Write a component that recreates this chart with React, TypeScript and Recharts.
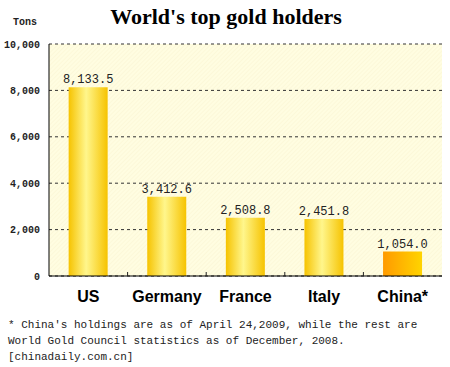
import {
  BarChart,
  Bar,
  XAxis,
  YAxis,
  CartesianGrid,
  Cell,
  LabelList,
} from 'recharts';

const countries = ['US', 'Germany', 'France', 'Italy', 'China*'];
const holdings = [8133.5, 3412.6, 2508.8, 2451.8, 1054.0];
const yTicks = [0, 2000, 4000, 6000, 8000, 10000];
const footnote = [
  "* China's holdings are as of April 24,2009, while the rest are",
  'World Gold Council statistics as of December, 2008.',
  '[chinadaily.com.cn]',
];

const data = countries.map((country, i) => ({ country, tons: holdings[i] }));

const mono = '"Liberation Mono", "DejaVu Sans Mono", monospace';

function CountryTick(props: any) {
  const { x, y, payload, index } = props;
  const half = payload?.offset ?? 39.3;
  return (
    <g>
      {index > 0 && (
        <line x1={x - half} x2={x - half} y1={y - 4} y2={y} stroke='#222' />
      )}
      <text
        x={x}
        y={y + 20}
        textAnchor='middle'
        dominantBaseline='central'
        fontFamily='"Liberation Sans", Arial, sans-serif'
        fontWeight='bold'
        fontSize={16}
        fill='#000'
      >
        {payload.value}
      </text>
    </g>
  );
}

export default function App() {
  return (
    <div
      style={{
        position: 'absolute',
        left: 0,
        top: 0,
        width: 450,
        height: 367,
        background: '#fff',
      }}
    >
      <div
        style={{
          position: 'absolute',
          left: 0,
          width: 452,
          top: 3,
          textAlign: 'center',
          fontFamily: '"Liberation Serif", serif',
          fontWeight: 'bold',
          fontSize: 22,
          lineHeight: '28px',
          color: '#000',
        }}
      >
        World's top gold holders
      </div>
      <div
        style={{
          position: 'absolute',
          left: 13,
          top: 17,
          fontFamily: mono,
          fontWeight: 'bold',
          fontSize: 10,
          lineHeight: '12px',
          color: '#222',
        }}
      >
        Tons
      </div>
      <BarChart
        width={450}
        height={367}
        data={data}
        margin={{ top: 44, right: 8, bottom: 0, left: 0 }}
        barCategoryGap='25%'
      >
        <defs>
          <pattern
            id='hatch'
            width={3}
            height={3}
            patternUnits='userSpaceOnUse'
            patternTransform='rotate(45)'
          >
            <rect width={3} height={3} fill='#FFFDE1' />
            <line x1={0} y1={0} x2={0} y2={3} stroke='#F9F4D2' strokeWidth={1} />
          </pattern>
          <linearGradient id='gold' x1='0' y1='0' x2='1' y2='0'>
            <stop offset='0%' stopColor='#F6C300' />
            <stop offset='45%' stopColor='#FFF68C' />
            <stop offset='100%' stopColor='#F6C300' />
          </linearGradient>
          <linearGradient id='china' x1='0' y1='0' x2='1' y2='0'>
            <stop offset='0%' stopColor='#FF9A00' />
            <stop offset='100%' stopColor='#FFD400' />
          </linearGradient>
        </defs>
        <CartesianGrid
          vertical={false}
          strokeDasharray='3 3'
          stroke='#333'
          fill='url(#hatch)'
        />
        <XAxis
          dataKey='country'
          height={91}
          tickLine={false}
          tickSize={0}
          tickMargin={0}
          axisLine={{ stroke: '#000' }}
          interval={0}
          tick={<CountryTick />}
        />
        <YAxis
          width={49}
          domain={[0, 10000]}
          ticks={yTicks}
          tickLine={false}
          axisLine={{ stroke: '#000' }}
          tickMargin={3}
          tickFormatter={(v: number) => v.toLocaleString('en-US')}
          tick={{ fontSize: 10, fontFamily: mono, fontWeight: 'bold', fill: '#222' }}
        />
        <YAxis
          yAxisId='right'
          orientation='right'
          width={0}
          domain={[0, 10000]}
          tick={false}
          tickLine={false}
          axisLine={{ stroke: '#555', strokeDasharray: '3 3' }}
        />
        <Bar dataKey='tons' isAnimationActive={false}>
          {data.map((d) => (
            <Cell
              key={d.country}
              fill={d.country.startsWith('China') ? 'url(#china)' : 'url(#gold)'}
            />
          ))}
          <LabelList
            dataKey='tons'
            position='top'
            offset={4}
            formatter={(v: number) =>
              v.toLocaleString('en-US', { minimumFractionDigits: 1, maximumFractionDigits: 1 })
            }
            style={{ fontFamily: mono, fontSize: 12, fill: '#222' }}
          />
        </Bar>
      </BarChart>
      <div
        style={{
          position: 'absolute',
          left: 8,
          top: 317,
          fontFamily: mono,
          fontSize: 11,
          lineHeight: '16px',
          color: '#222',
          whiteSpace: 'pre',
        }}
      >
        {footnote.map((line) => (
          <div key={line}>{line}</div>
        ))}
      </div>
    </div>
  );
}
